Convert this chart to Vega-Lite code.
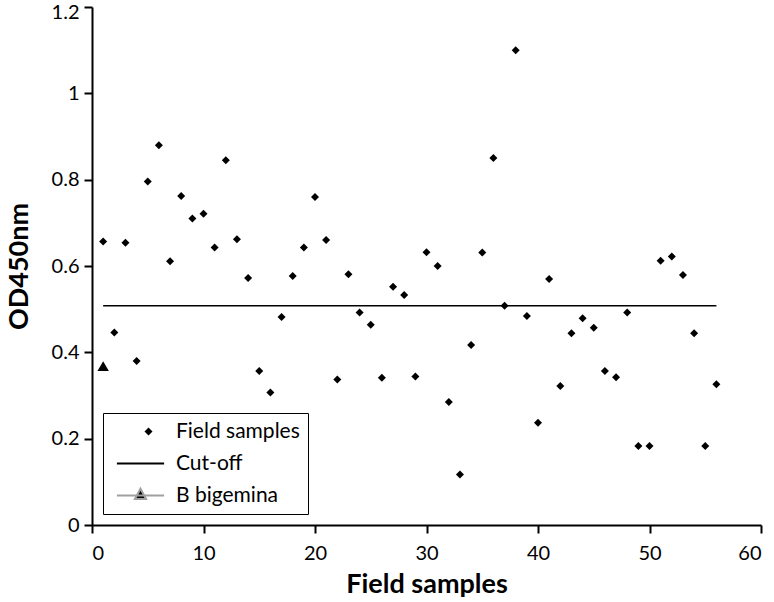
{
  "$schema": "https://vega.github.io/schema/vega-lite/v6.json",
  "autosize": {"type": "none"},
  "padding": {"left": 92, "top": 7, "right": 13, "bottom": 77},
  "width": 669,
  "height": 518,
  "background": "white",
  "config": {
    "view": {"stroke": null},
    "font": "Lato",
    "axis": {
      "grid": false,
      "domainColor": "black",
      "domainWidth": 2,
      "tickColor": "black",
      "tickWidth": 2,
      "tickSize": 8,
      "labelFont": "Lato",
      "labelFontSize": 20,
      "labelColor": "black",
      "titleFont": "Lato",
      "titleFontSize": 27,
      "titleFontWeight": "bold",
      "titleColor": "black"
    }
  },
  "data": {
    "values": [
      {"n": 1, "od": 0.657, "series": "Field samples"},
      {"n": 2, "od": 0.446, "series": "Field samples"},
      {"n": 3, "od": 0.654, "series": "Field samples"},
      {"n": 4, "od": 0.38, "series": "Field samples"},
      {"n": 5, "od": 0.796, "series": "Field samples"},
      {"n": 6, "od": 0.88, "series": "Field samples"},
      {"n": 7, "od": 0.611, "series": "Field samples"},
      {"n": 8, "od": 0.762, "series": "Field samples"},
      {"n": 9, "od": 0.71, "series": "Field samples"},
      {"n": 10, "od": 0.721, "series": "Field samples"},
      {"n": 11, "od": 0.643, "series": "Field samples"},
      {"n": 12, "od": 0.845, "series": "Field samples"},
      {"n": 13, "od": 0.662, "series": "Field samples"},
      {"n": 14, "od": 0.572, "series": "Field samples"},
      {"n": 15, "od": 0.357, "series": "Field samples"},
      {"n": 16, "od": 0.307, "series": "Field samples"},
      {"n": 17, "od": 0.482, "series": "Field samples"},
      {"n": 18, "od": 0.577, "series": "Field samples"},
      {"n": 19, "od": 0.643, "series": "Field samples"},
      {"n": 20, "od": 0.76, "series": "Field samples"},
      {"n": 21, "od": 0.66, "series": "Field samples"},
      {"n": 22, "od": 0.337, "series": "Field samples"},
      {"n": 23, "od": 0.581, "series": "Field samples"},
      {"n": 24, "od": 0.492, "series": "Field samples"},
      {"n": 25, "od": 0.464, "series": "Field samples"},
      {"n": 26, "od": 0.341, "series": "Field samples"},
      {"n": 27, "od": 0.552, "series": "Field samples"},
      {"n": 28, "od": 0.533, "series": "Field samples"},
      {"n": 29, "od": 0.344, "series": "Field samples"},
      {"n": 30, "od": 0.632, "series": "Field samples"},
      {"n": 31, "od": 0.6, "series": "Field samples"},
      {"n": 32, "od": 0.285, "series": "Field samples"},
      {"n": 33, "od": 0.117, "series": "Field samples"},
      {"n": 34, "od": 0.417, "series": "Field samples"},
      {"n": 35, "od": 0.631, "series": "Field samples"},
      {"n": 36, "od": 0.85, "series": "Field samples"},
      {"n": 37, "od": 0.508, "series": "Field samples"},
      {"n": 38, "od": 1.1, "series": "Field samples"},
      {"n": 39, "od": 0.484, "series": "Field samples"},
      {"n": 40, "od": 0.237, "series": "Field samples"},
      {"n": 41, "od": 0.57, "series": "Field samples"},
      {"n": 42, "od": 0.322, "series": "Field samples"},
      {"n": 43, "od": 0.444, "series": "Field samples"},
      {"n": 44, "od": 0.479, "series": "Field samples"},
      {"n": 45, "od": 0.457, "series": "Field samples"},
      {"n": 46, "od": 0.357, "series": "Field samples"},
      {"n": 47, "od": 0.342, "series": "Field samples"},
      {"n": 48, "od": 0.492, "series": "Field samples"},
      {"n": 49, "od": 0.183, "series": "Field samples"},
      {"n": 50, "od": 0.183, "series": "Field samples"},
      {"n": 51, "od": 0.612, "series": "Field samples"},
      {"n": 52, "od": 0.622, "series": "Field samples"},
      {"n": 53, "od": 0.579, "series": "Field samples"},
      {"n": 54, "od": 0.444, "series": "Field samples"},
      {"n": 55, "od": 0.183, "series": "Field samples"},
      {"n": 56, "od": 0.326, "series": "Field samples"},
      {"n": 1, "od": 0.508, "series": "Cut-off"},
      {"n": 56, "od": 0.508, "series": "Cut-off"},
      {"n": 1, "od": 0.368, "series": "B bigemina"}
    ]
  },
  "encoding": {
    "x": {
      "field": "n",
      "type": "quantitative",
      "scale": {"domain": [0, 60], "nice": false, "zero": false},
      "axis": {"values": [0, 10, 20, 30, 40, 50, 60], "title": "Field samples", "labelPadding": 10, "titlePadding": 8}
    },
    "y": {
      "field": "od",
      "type": "quantitative",
      "scale": {"domain": [0, 1.2], "nice": false},
      "axis": {
        "values": [0, 0.2, 0.4, 0.6, 0.8, 1, 1.2],
        "format": "~g",
        "title": "OD450nm",
        "labelPadding": 5,
        "titlePadding": 18,
        "labelOffset": {"condition": {"test": "datum.value >= 1.15", "value": 5}, "value": 0}
      }
    }
  },
  "layer": [
    {
      "transform": [{"filter": "datum.series === 'Cut-off'"}],
      "mark": {"type": "line", "color": "black", "strokeWidth": 1.6}
    },
    {
      "transform": [{"filter": "datum.series === 'Field samples'"}],
      "mark": {"type": "point", "filled": true, "opacity": 1, "size": 256, "strokeWidth": 1.6},
      "encoding": {
        "shape": {
          "field": "series",
          "type": "nominal",
          "scale": {
            "domain": ["Field samples", "Cut-off", "B bigemina"],
            "range": [
              "M0,-0.5L0.5,0L0,0.5L-0.5,0Z",
              "M-3.95,0L1.95,0",
              "M-3.95,0L1.95,0M-1,-0.85L-0.3,0.45L-1.7,0.45Z"
            ]
          },
          "legend": {
            "title": null,
            "orient": "none",
            "legendX": 11,
            "legendY": 406,
            "strokeColor": "black",
            "fillColor": "white",
            "padding": 8,
            "labelFont": "Lato",
            "labelFontSize": 21,
            "labelColor": "black",
            "symbolSize": 256,
            "symbolOffset": 27,
            "labelOffset": 17,
            "rowPadding": 10,
            "symbolStrokeWidth": 2
          }
        },
        "fill": {
          "field": "series",
          "type": "nominal",
          "scale": {"domain": ["Field samples", "Cut-off", "B bigemina"], "range": ["black", "transparent", "black"]},
          "legend": null
        },
        "stroke": {
          "field": "series",
          "type": "nominal",
          "scale": {"domain": ["Field samples", "Cut-off", "B bigemina"], "range": ["transparent", "black", "#a0a0a0"]},
          "legend": null
        }
      }
    },
    {
      "transform": [{"filter": "datum.series === 'B bigemina'"}],
      "mark": {"type": "point", "filled": true, "color": "black", "opacity": 1, "shape": "triangle-up", "size": 130}
    }
  ]
}
